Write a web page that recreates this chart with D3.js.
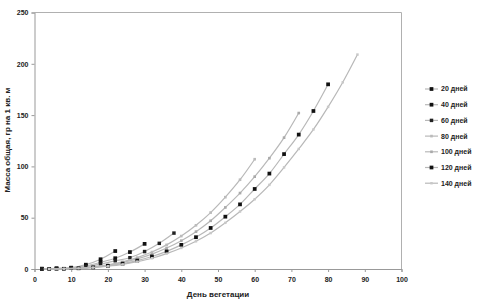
<!DOCTYPE html>
<html lang="ru">
<head>
<meta charset="UTF-8">
<title>Масса общая</title>
<style>
  body { margin: 0; background: #fff; }
  text { font-family: "Liberation Sans", Arial, sans-serif; font-weight: bold; fill: #222; }
</style>
</head>
<body>
<svg id="chart" width="492" height="305"></svg>
<script src="https://d3js.org/d3.v7.min.js"></script>
<script>
// series labels (legend)
var seriesNames = ["20 дней", "40 дней", "60 дней", "80 дней", "100 дней", "120 дней", "140 дней"];

// day of vegetation and mass per series
var days20 = [2, 6, 10, 14, 18, 22];
var mass20 = [0.3, 0.6, 1.3, 4.2, 9.5, 17.5];
var days40 = [2, 6, 10, 14, 18, 22, 26, 30];
var mass40 = [0.2, 0.5, 1.0, 3.0, 6.5, 10.5, 16.5, 24.5];
var days60 = [2, 6, 10, 14, 18, 22, 26, 30, 34, 38];
var mass60 = [0.2, 0.4, 0.9, 2.4, 4.8, 8.0, 11.0, 17.0, 25.0, 35.0];
var days80 = [4, 8, 12, 16, 20, 24, 28, 32, 36, 40, 44, 48, 52, 56, 60];
var mass80 = [0.1, 0.3, 0.9, 2.1, 4.1, 7.0, 11.1, 16.5, 23.5, 32.1, 42.6, 55, 70, 87, 107];
var days100 = [4, 8, 12, 16, 20, 24, 28, 32, 36, 40, 44, 48, 52, 56, 60, 64, 68, 72];
var mass100 = [0.1, 0.3, 0.8, 1.9, 3.7, 6.3, 9.8, 14.5, 20.4, 27.6, 36.4, 47, 60, 74, 90, 108, 128, 152];
var days120 = [4, 8, 12, 16, 20, 24, 28, 32, 36, 40, 44, 48, 52, 56, 60, 64, 68, 72, 76, 80];
var mass120 = [0.1, 0.2, 0.7, 1.6, 3.1, 5.2, 8.2, 12.2, 17.2, 23.5, 31, 40, 51, 63, 78, 93, 112, 131, 154, 180];
var days140 = [4, 8, 12, 16, 20, 24, 28, 32, 36, 40, 44, 48, 52, 56, 60, 64, 68, 72, 76, 80, 84, 88];
var mass140 = [0.1, 0.3, 0.6, 1.4, 2.7, 4.5, 7.2, 10.5, 15, 20.5, 27, 35, 45, 56, 68, 82, 99, 117, 136, 158, 182, 209];

var xTicks = [0, 10, 20, 30, 40, 50, 60, 70, 80, 90, 100];
var yTicks = [0, 50, 100, 150, 200, 250];

var allDays = [days20, days40, days60, days80, days100, days120, days140];
var allMass = [mass20, mass40, mass60, mass80, mass100, mass120, mass140];

// marker look per series
var markerShape = [d3.symbolSquare, d3.symbolSquare, d3.symbolSquare, d3.symbolSquare, d3.symbolSquare, d3.symbolSquare, d3.symbolSquare];
var markerFill = ["#111", "#111", "#222", "#bbb", "#aaa", "#111", "#c8c8c8"];
var markerSize = [14, 14, 12, 7, 7, 14, 6];

var series = seriesNames.map(function (name, i) {
    return {
        name: name,
        points: allDays[i].map(function (d, j) { return { day: d, mass: allMass[i][j] }; })
    };
});

var svg = d3.select("#chart");

var x = d3.scaleLinear().domain([0, 100]).range([34.5, 401.5]);
var y = d3.scaleLinear().domain([0, 250]).range([269, 12.5]);

// plot frame (top and right)
svg.append("path")
    .attr("d", "M" + x(0) + "," + y(250) + "H" + x(100) + "V" + y(0))
    .attr("fill", "none")
    .attr("stroke", "#b0b0b0")
    .attr("stroke-width", 1);

var xAxis = svg.append("g")
    .attr("transform", "translate(0," + y(0) + ")")
    .call(d3.axisBottom(x).tickValues(xTicks).tickSize(3).tickPadding(5));

var yAxis = svg.append("g")
    .attr("transform", "translate(" + x(0) + ",0)")
    .call(d3.axisLeft(y).tickValues(yTicks).tickSize(3).tickPadding(3));

[xAxis, yAxis].forEach(function (g) {
    g.select(".domain").attr("stroke", "#999");
    g.selectAll(".tick line").attr("stroke", "#999");
    g.selectAll("text").style("font-size", "7px").attr("fill", "#222");
});

// axis titles
svg.append("text")
    .attr("x", 218)
    .attr("y", 297)
    .attr("text-anchor", "middle")
    .style("font-size", "8px")
    .text("День вегетации");

svg.append("text")
    .attr("transform", "translate(10,140) rotate(-90)")
    .attr("text-anchor", "middle")
    .style("font-size", "8px")
    .text("Масса общая, гр на 1 кв. м");

var line = d3.line()
    .x(function (d) { return x(d.day); })
    .y(function (d) { return y(d.mass); })
    .curve(d3.curveMonotoneX);

var groups = svg.selectAll(".series")
    .data(series)
    .enter().append("g")
    .attr("class", "series");

groups.append("path")
    .attr("d", function (d) { return line(d.points); })
    .attr("fill", "none")
    .attr("stroke", "#b8b8b8")
    .attr("stroke-width", 1.2);

groups.each(function (s, i) {
    d3.select(this).selectAll("path.pt")
        .data(s.points)
        .enter().append("path")
        .attr("class", "pt")
        .attr("transform", function (d) { return "translate(" + x(d.day) + "," + y(d.mass) + ")"; })
        .attr("d", d3.symbol().type(markerShape[i]).size(markerSize[i]))
        .attr("fill", markerFill[i])
        .attr("stroke", "none");
});

// legend
var legend = svg.append("g")
    .attr("transform", "translate(425,89)");

var items = legend.selectAll("g")
    .data(seriesNames)
    .enter().append("g")
    .attr("transform", function (d, i) { return "translate(0," + i * 15.7 + ")"; });

items.append("line")
    .attr("x1", 0).attr("x2", 13)
    .attr("stroke", "#b8b8b8")
    .attr("stroke-width", 1.2);

items.append("path")
    .attr("transform", "translate(6.5,0)")
    .attr("d", function (d, i) { return d3.symbol().type(markerShape[i]).size(markerSize[i])(); })
    .attr("fill", function (d, i) { return markerFill[i]; });

items.append("text")
    .attr("x", 16)
    .attr("dy", "0.35em")
    .style("font-size", "7px")
    .text(function (d) { return d; });
</script>
</body>
</html>
